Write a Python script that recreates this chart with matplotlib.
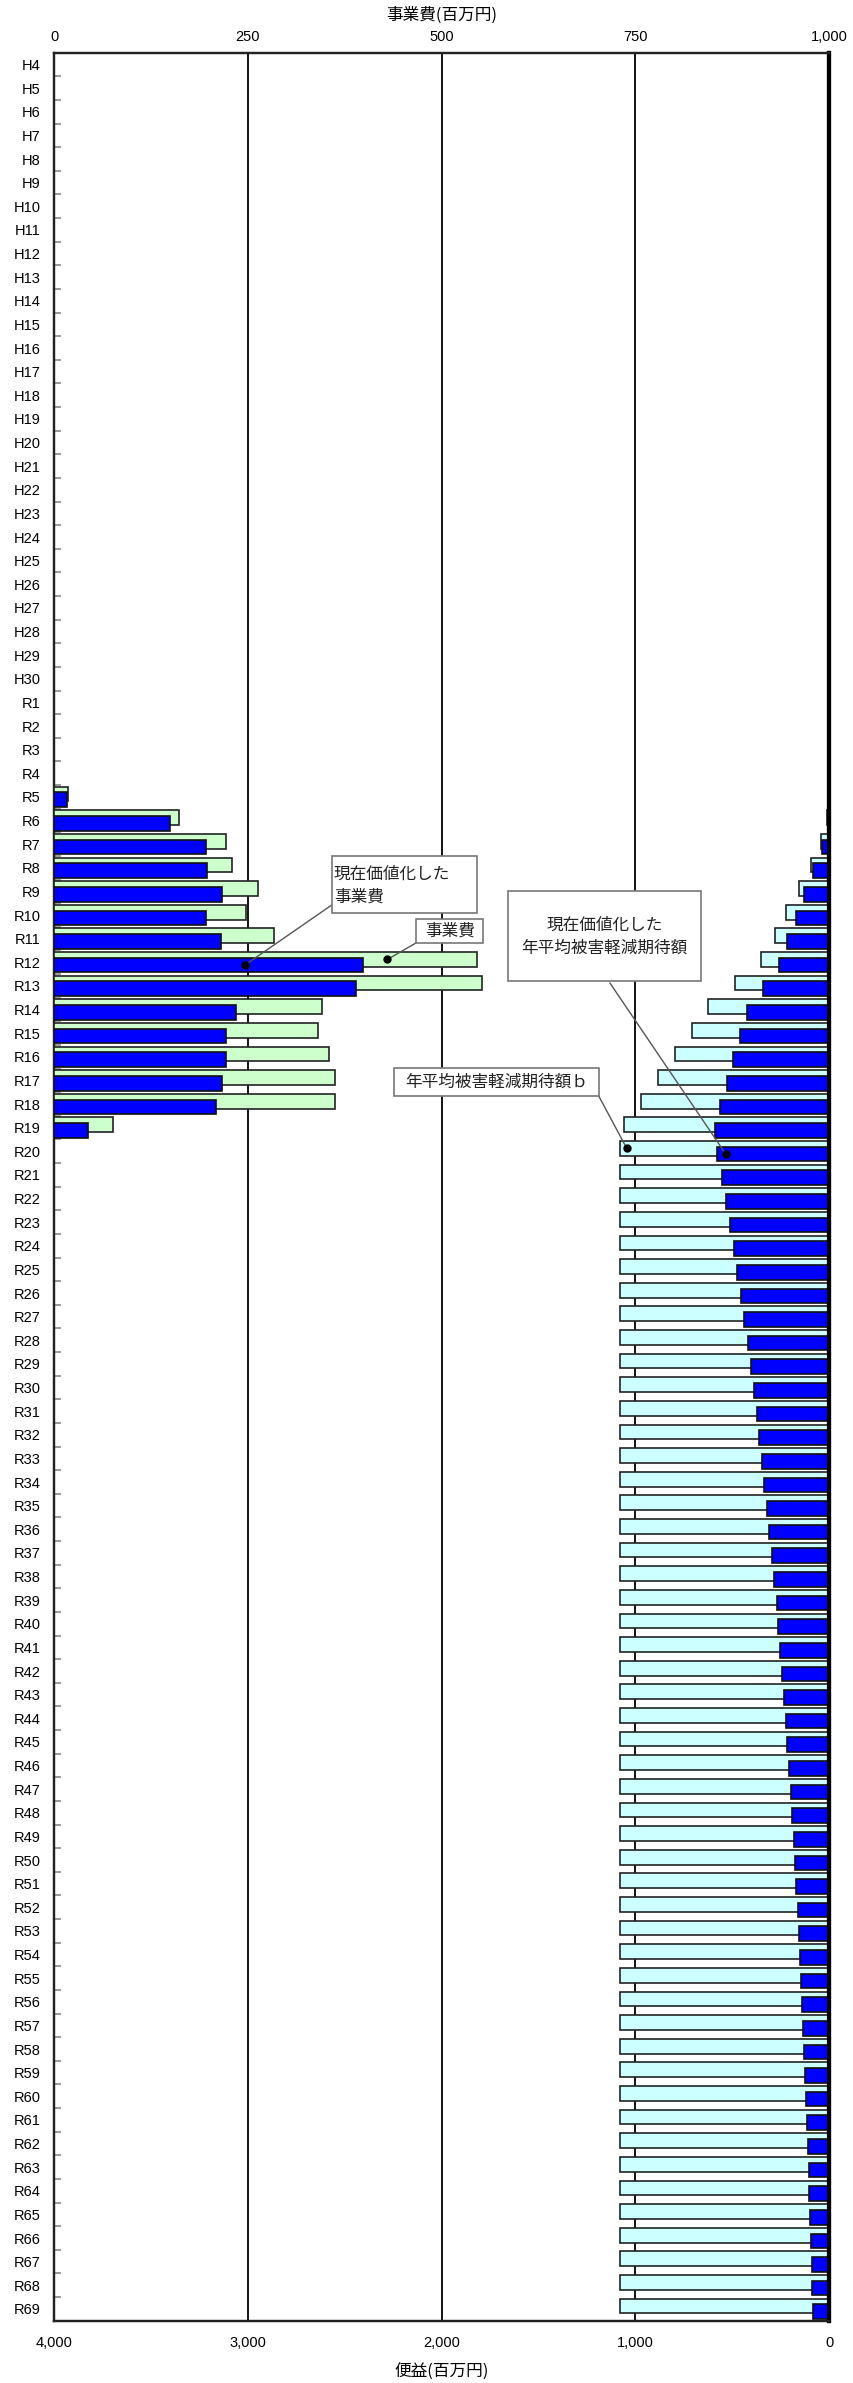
import numpy as np
import matplotlib
matplotlib.use('Agg')
import matplotlib.pyplot as plt
from matplotlib.patches import Rectangle
from matplotlib.ticker import FuncFormatter

plt.rcParams['font.family'] = ['Liberation Sans', 'Noto Sans CJK JP', 'DejaVu Sans']

# categories: H4..H30, R1..R69
years = ['H%d' % i for i in range(4, 31)] + ['R%d' % i for i in range(1, 70)]

# 事業費 (R5..R19) and 現在価値化した事業費
cost_years = ['R%d' % i for i in range(5, 20)]
cost = [18, 161, 221, 230, 263, 248, 283, 545, 552, 346, 340, 354, 362, 362, 76]
cost_pv = [17, 149, 196, 197, 216, 196, 215, 399, 389, 234, 221, 221, 217, 209, 43]

# 年平均被害軽減期待額b (R6..R69) and 現在価値化した値
ben_years = ['R%d' % i for i in range(6, 70)]
benefit = [8, 42, 94, 155, 220, 280, 353, 487, 623, 709, 795, 881, 972, 1060] + [1080] * 50
benefit_pv = [7, 37, 81, 129, 172, 215, 258, 339, 421, 461, 495, 528, 562, 589,
              576, 554, 531, 512, 492, 473, 456, 437, 418, 402, 389, 371, 359, 344,
              334, 322, 308, 294, 284, 270, 261, 251, 241, 234, 223, 215, 205, 198,
              191, 182, 175, 168, 162, 155, 151, 146, 139, 132, 129, 124, 119, 112,
              108, 105, 101, 96, 93, 89, 86, 82]

GREEN = '#CCFFCC'
CYAN = '#CCFFFF'
BLUE = '#0000FF'

n = len(years)
idx = {y: i for i, y in enumerate(years)}
cy = np.array([idx[y] for y in cost_years])
by = np.array([idx[y] for y in ben_years])

W, H = 854, 2383
fig = plt.figure(figsize=(W / 100, H / 100), dpi=100)
L, R, T, B = 54.3, 829, 52.7, 2320.7
ax = fig.add_axes([L / W, 1 - B / H, (R - L) / W, (B - T) / H])
ax2 = ax.twiny()

off, h = 0.12, 0.62
# benefit side (bottom axis, reversed)
ax.barh(by - off, benefit, height=h, color=CYAN, edgecolor='#222222', linewidth=1.2, zorder=3)
ax.barh(by + off, benefit_pv, height=h, color=BLUE, edgecolor='#111111', linewidth=1.2, zorder=4)
# cost side (top axis)
ax2.barh(cy - off, cost, height=h, color=GREEN, edgecolor='#222222', linewidth=1.2, zorder=3)
ax2.barh(cy + off, cost_pv, height=h, color=BLUE, edgecolor='#111111', linewidth=1.2, zorder=4)

ax.set_xlim(4000, 0)
ax2.set_xlim(0, 1000)
ax.set_ylim(n - 0.5, -0.5)

ax.set_xticks([0, 1000, 2000, 3000, 4000])
ax2.set_xticks([0, 250, 500, 750, 1000])
fmt = FuncFormatter(lambda v, p: '{:,.0f}'.format(v))
ax.xaxis.set_major_formatter(fmt)
ax2.xaxis.set_major_formatter(fmt)
ax.tick_params(axis='x', length=0, pad=11, labelsize=10.5)
ax2.tick_params(axis='x', length=0, pad=6, labelsize=10.5)

ax.set_yticks(range(n))
ax.set_yticklabels(years)
ax.set_yticks(np.arange(n + 1) - 0.5, minor=True)
ax.tick_params(axis='y', which='major', length=0, pad=10, labelsize=10.5)
ax.tick_params(axis='y', which='minor', direction='in', length=5, color='#888888', width=1.2)

ax.grid(axis='x', color='black', linewidth=1.3)
ax.set_axisbelow(True)

for a in (ax, ax2):
    for s in a.spines.values():
        s.set_linewidth(1.6)
        s.set_color('#222222')
    a.spines['right'].set_linewidth(3)
    a.spines['right'].set_color('black')

jp = ['Noto Sans CJK JP', 'DejaVu Sans']

fig.text((L + R) / 2 / W, 1 - 15 / H, '事業費(百万円)', ha='center', va='center',
         fontsize=12, family=jp)
fig.text((L + R) / 2 / W, 1 - 2372 / H, '便益(百万円)', ha='center', va='center',
         fontsize=12, family=jp)


def callout(a, box, text, txy, start, dot, ha='center'):
    x0, x1, y0, y1 = box
    a.add_patch(Rectangle((min(x0, x1), y0), abs(x1 - x0), y1 - y0, facecolor='white',
                          edgecolor='#777777', linewidth=1.2, zorder=8))
    a.text(txy[0], txy[1], text, ha=ha, multialignment=ha, va='center', fontsize=12,
           family=jp, linespacing=1.45, color='#222222', zorder=9)
    a.plot([start[0], dot[0]], [start[1], dot[1]], color='#555555', linewidth=1.0, zorder=7)
    a.plot([dot[0]], [dot[1]], 'o', color='black', markersize=5, zorder=10)


ri = idx['R12']
callout(ax2, (358, 546, 33.5, 35.9), '現在価値化した\n事業費', (361, 34.75),
        (358, 35.58), (246, ri + off), ha='left')
callout(ax2, (467, 554, 36.18, 37.2), '事業費', (511, 36.68),
        (467, 37.18), (430, ri - off))
r20 = idx['R20']
callout(ax, (1656, 662, 34.97, 38.79), '現在価値化した\n年平均被害軽減期待額', (1159, 36.93),
        (1131, 38.88), (533, r20 + off))
callout(ax, (2246, 1189, 42.46, 43.66), '年平均被害軽減期待額ｂ', (1716, 43.07),
        (1189, 43.66), (1044, r20 - off))

fig.savefig('out.png', dpi=100)
